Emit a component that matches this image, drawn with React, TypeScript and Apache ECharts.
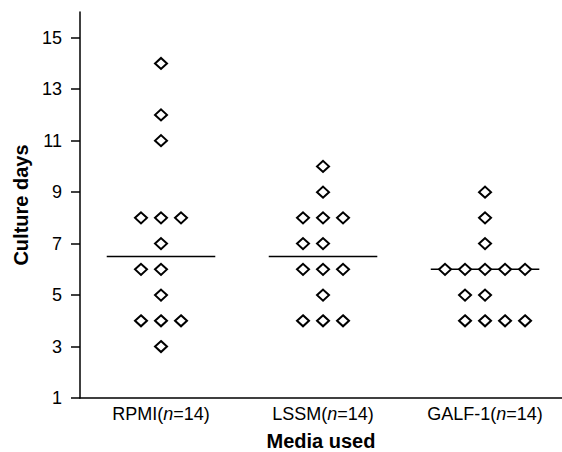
import React, { useEffect, useRef } from "react";
import * as echarts from "echarts";

const categories = ["RPMI", "LSSM", "GALF-1"];
const groupSizes = [14, 14, 14];

const rpmiValues = [14, 12, 11, 8, 8, 8, 7, 6, 6, 5, 4, 4, 4, 3];
const rpmiSlots = [0, 0, 0, -1, 0, 1, 0, -1, 0, 0, -1, 0, 1, 0];

const lssmValues = [10, 9, 8, 8, 8, 7, 7, 6, 6, 6, 5, 4, 4, 4];
const lssmSlots = [0, 0, -1, 0, 1, -1, 0, -1, 0, 1, 0, -1, 0, 1];

const galfValues = [9, 8, 7, 6, 6, 6, 6, 6, 5, 5, 4, 4, 4, 4];
const galfSlots = [0, 0, 0, -2, -1, 0, 1, 2, -1, 0, -1, 0, 1, 2];

const yTicks = [1, 3, 5, 7, 9, 11, 13, 15];

const FONT = "'Liberation Sans', Arial, Helvetica, sans-serif";
const SLOT_STEP = 0.1235;
const MEDIAN_HALF = 0.335;

function median(arr: number[]): number {
  const s = [...arr].sort((a, b) => a - b);
  const n = s.length;
  return n % 2 ? s[(n - 1) / 2] : (s[n / 2 - 1] + s[n / 2]) / 2;
}

export default function App() {
  const ref = useRef<HTMLDivElement>(null);

  useEffect(() => {
    document.body.style.margin = "0";
    if (!ref.current) return;
    const chart = echarts.init(ref.current, null, { renderer: "svg" });

    const groups = [
      { values: rpmiValues, slots: rpmiSlots },
      { values: lssmValues, slots: lssmSlots },
      { values: galfValues, slots: galfSlots },
    ];

    const series: any[] = [];
    groups.forEach((g, i) => {
      const c = i + 1;
      const m = median(g.values);
      series.push({
        type: "line",
        data: [
          [c - MEDIAN_HALF, m],
          [c + MEDIAN_HALF, m],
        ],
        symbol: "none",
        lineStyle: { color: "#000", width: 1.5 },
        z: 2,
        silent: true,
      });
      series.push({
        type: "scatter",
        data: g.values.map((v, k) => [c + g.slots[k] * SLOT_STEP, v]),
        symbol: "diamond",
        symbolSize: [12, 11],
        itemStyle: { color: "#fff", borderColor: "#000", borderWidth: 2, opacity: 1 },
        z: 3,
      });
    });

    chart.setOption({
      animation: false,
      backgroundColor: "#fff",
      grid: { left: 80, right: 0, top: 12, bottom: 54, containLabel: false, outerBoundsMode: "none" },
      xAxis: {
        type: "value",
        min: 0.5,
        max: 3.475,
        name: "Media used",
        nameLocation: "middle",
        nameGap: 33,
        nameTextStyle: { fontFamily: FONT, fontWeight: "bold", fontSize: 20, color: "#000" },
        axisLine: { show: true, onZero: false, lineStyle: { color: "#000", width: 1.5 } },
        axisTick: { show: false },
        splitLine: { show: false },
        axisLabel: {
          customValues: [1, 2, 3],
          margin: 7,
          fontFamily: FONT,
          fontSize: 18,
          color: "#000",
          formatter: (v: number) => {
            const i = Math.round(v) - 1;
            return `${categories[i]}({it|n}=${groupSizes[i]})`;
          },
          rich: {
            it: { fontStyle: "italic", fontFamily: FONT, fontSize: 18, color: "#000" },
          },
        },
      },
      yAxis: {
        type: "value",
        min: 1,
        max: 16,
        interval: 2,
        name: "Culture days",
        nameLocation: "middle",
        nameGap: 48,
        nameTextStyle: { fontFamily: FONT, fontWeight: "bold", fontSize: 20, color: "#000" },
        axisLine: { show: true, onZero: false, lineStyle: { color: "#000", width: 1.5 } },
        axisTick: { show: true, length: 9, customValues: yTicks, lineStyle: { color: "#000", width: 1.5 } },
        splitLine: { show: false },
        axisLabel: {
          customValues: yTicks,
          margin: 18,
          fontFamily: FONT,
          fontSize: 18,
          color: "#000",
        },
      },
      series,
    });

    return () => chart.dispose();
  }, []);

  return <div ref={ref} style={{ width: 562, height: 452 }} />;
}
